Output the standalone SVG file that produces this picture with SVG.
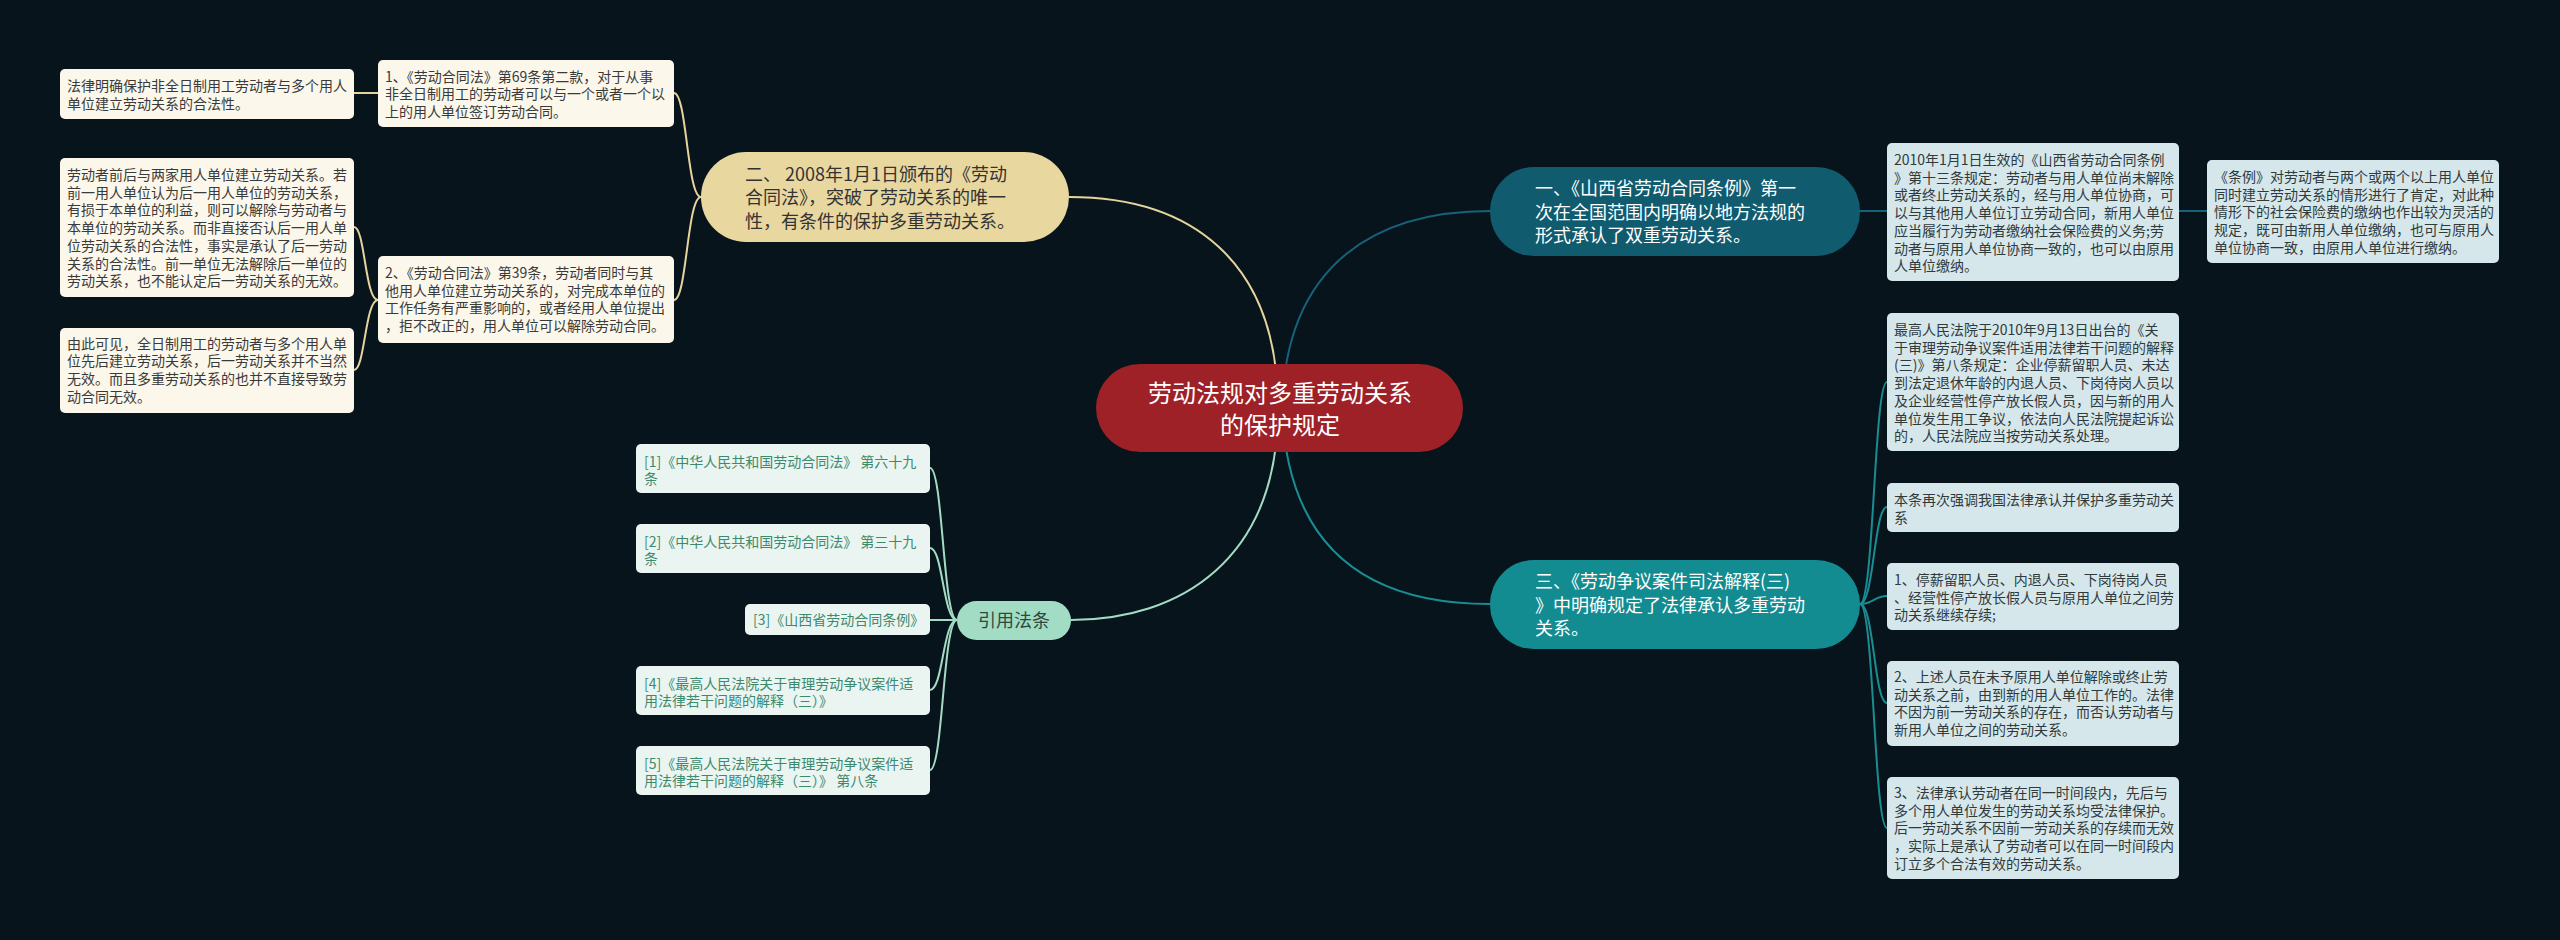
<svg xmlns="http://www.w3.org/2000/svg" width="2560" height="940" viewBox="0 0 2560 940">
<style>
text{font-family:"Noto Sans CJK SC","Noto Sans",sans-serif;}
.sm{font-size:14px;}
.md{font-size:18px;}
.lg{font-size:24px;}
.leafL{fill:#fbf7ea;}
.leafR{fill:#d6e7eb;}
.leafC{fill:#eaf4f0;}
.tL{fill:#3a3a3a;}
.tR{fill:#2f3a3d;}
.tC{fill:#3d8a6e;}
.w{fill:#ffffff;}
.cb{fill:none;stroke:#e5d49c;stroke-width:2;}
.c1{fill:none;stroke:#17617a;stroke-width:2;}
.c3{fill:none;stroke:#1a8d92;stroke-width:2;}
.cc{fill:none;stroke:#a3dcc4;stroke-width:2;}
</style>
<rect x="0" y="0" width="2560" height="940" fill="#08141c"/>

<g id="connectors">
  <path class="cb" d="M1278,408 C1278,260 1190,197 1069,197"/>
  <path class="c1" d="M1282,408 C1286,260 1380,211 1490,211"/>
  <path class="cc" d="M1278,408 C1278,560 1180,620 1071,620"/>
  <path class="c3" d="M1282,408 C1288,560 1380,604 1490,604"/>
  <path class="cb" d="M701,197 C687,197 687,93 674,93"/>
  <path class="cb" d="M701,197 C687,197 687,300 674,300"/>
  <path class="cb" d="M378,93 L354,93"/>
  <path class="cb" d="M378,300 C365,300 365,227 354,227"/>
  <path class="cb" d="M378,300 C365,300 365,370 354,370"/>
  <path class="c1" d="M1860,211 L1887,211"/>
  <path class="c1" d="M2179,211 L2207,211"/>
  <path class="c3" d="M1860,604 C1874,604 1874,382 1887,382"/>
  <path class="c3" d="M1860,604 C1874,604 1874,507 1887,507"/>
  <path class="c3" d="M1860,604 C1874,604 1874,596 1887,596"/>
  <path class="c3" d="M1860,604 C1874,604 1874,703 1887,703"/>
  <path class="c3" d="M1860,604 C1874,604 1874,828 1887,828"/>
  <path class="cc" d="M957,620 C943,620 943,468 930,468"/>
  <path class="cc" d="M957,620 C943,620 943,548 930,548"/>
  <path class="cc" d="M957,620 L930,620"/>
  <path class="cc" d="M957,620 C943,620 943,690 930,690"/>
  <path class="cc" d="M957,620 C943,620 943,770 930,770"/>
</g>

<g id="center">
  <rect x="1096" y="364" width="367" height="88" rx="44" fill="#9e2128"/>
  <text class="lg w" x="1280" y="402" text-anchor="middle">劳动法规对多重劳动关系</text>
  <text class="lg w" x="1280" y="434" text-anchor="middle">的保护规定</text>
</g>

<g id="branch2">
  <rect x="701" y="152" width="368" height="90" rx="45" fill="#e9d7a0"/>
  <text class="md" fill="#333" x="745" y="180.5">二、 2008年1月1日颁布的《劳动</text>
  <text class="md" fill="#333" x="745" y="204">合同法》，突破了劳动关系的唯一</text>
  <text class="md" fill="#333" x="745" y="227.5">性，有条件的保护多重劳动关系。</text>
</g>

<g id="b2c1">
  <rect class="leafL" x="378" y="60" width="296" height="67" rx="5"/>
  <text class="sm tL" x="385" y="81.5">1、《劳动合同法》第69条第二款，对于从事</text>
  <text class="sm tL" x="385" y="99.2">非全日制用工的劳动者可以与一个或者一个以</text>
  <text class="sm tL" x="385" y="116.9">上的用人单位签订劳动合同。</text>
</g>
<g id="b2c1a">
  <rect class="leafL" x="60" y="69" width="294" height="50" rx="5"/>
  <text class="sm tL" x="67" y="91">法律明确保护非全日制用工劳动者与多个用人</text>
  <text class="sm tL" x="67" y="108.7">单位建立劳动关系的合法性。</text>
</g>
<g id="b2c2">
  <rect class="leafL" x="378" y="256" width="296" height="87" rx="5"/>
  <text class="sm tL" x="385" y="278">2、《劳动合同法》第39条，劳动者同时与其</text>
  <text class="sm tL" x="385" y="295.7">他用人单位建立劳动关系的，对完成本单位的</text>
  <text class="sm tL" x="385" y="313.4">工作任务有严重影响的，或者经用人单位提出</text>
  <text class="sm tL" x="385" y="331.1">，拒不改正的，用人单位可以解除劳动合同。</text>
</g>
<g id="b2c2a">
  <rect class="leafL" x="60" y="158" width="294" height="139" rx="5"/>
  <text class="sm tL" x="67" y="180">劳动者前后与两家用人单位建立劳动关系。若</text>
  <text class="sm tL" x="67" y="197.7">前一用人单位认为后一用人单位的劳动关系，</text>
  <text class="sm tL" x="67" y="215.4">有损于本单位的利益，则可以解除与劳动者与</text>
  <text class="sm tL" x="67" y="233.1">本单位的劳动关系。而非直接否认后一用人单</text>
  <text class="sm tL" x="67" y="250.8">位劳动关系的合法性，事实是承认了后一劳动</text>
  <text class="sm tL" x="67" y="268.5">关系的合法性。前一单位无法解除后一单位的</text>
  <text class="sm tL" x="67" y="286.2">劳动关系，也不能认定后一劳动关系的无效。</text>
</g>
<g id="b2c2b">
  <rect class="leafL" x="60" y="328" width="294" height="85" rx="5"/>
  <text class="sm tL" x="67" y="348.5">由此可见，全日制用工的劳动者与多个用人单</text>
  <text class="sm tL" x="67" y="366.2">位先后建立劳动关系，后一劳动关系并不当然</text>
  <text class="sm tL" x="67" y="383.9">无效。而且多重劳动关系的也并不直接导致劳</text>
  <text class="sm tL" x="67" y="401.6">动合同无效。</text>
</g>

<g id="branch1">
  <rect x="1490" y="167" width="370" height="89" rx="44" fill="#115b6f"/>
  <text class="md w" x="1535" y="195">一、《山西省劳动合同条例》第一</text>
  <text class="md w" x="1535" y="218.5">次在全国范围内明确以地方法规的</text>
  <text class="md w" x="1535" y="242">形式承认了双重劳动关系。</text>
</g>
<g id="b1c1">
  <rect class="leafR" x="1887" y="143" width="292" height="138" rx="5"/>
  <text class="sm tR" x="1894" y="165">2010年1月1日生效的《山西省劳动合同条例</text>
  <text class="sm tR" x="1894" y="182.7">》第十三条规定：劳动者与用人单位尚未解除</text>
  <text class="sm tR" x="1894" y="200.4">或者终止劳动关系的，经与用人单位协商，可</text>
  <text class="sm tR" x="1894" y="218.1">以与其他用人单位订立劳动合同，新用人单位</text>
  <text class="sm tR" x="1894" y="235.8">应当履行为劳动者缴纳社会保险费的义务;劳</text>
  <text class="sm tR" x="1894" y="253.5">动者与原用人单位协商一致的，也可以由原用</text>
  <text class="sm tR" x="1894" y="271.2">人单位缴纳。</text>
</g>
<g id="b1c1a">
  <rect class="leafR" x="2207" y="160" width="292" height="103" rx="5"/>
  <text class="sm tR" x="2214" y="182">《条例》对劳动者与两个或两个以上用人单位</text>
  <text class="sm tR" x="2214" y="199.7">同时建立劳动关系的情形进行了肯定，对此种</text>
  <text class="sm tR" x="2214" y="217.4">情形下的社会保险费的缴纳也作出较为灵活的</text>
  <text class="sm tR" x="2214" y="235.1">规定，既可由新用人单位缴纳，也可与原用人</text>
  <text class="sm tR" x="2214" y="252.8">单位协商一致，由原用人单位进行缴纳。</text>
</g>

<g id="branch3">
  <rect x="1490" y="560" width="370" height="89" rx="44" fill="#138c91"/>
  <text class="md w" x="1535" y="588">三、《劳动争议案件司法解释(三)</text>
  <text class="md w" x="1535" y="611.5">》中明确规定了法律承认多重劳动</text>
  <text class="md w" x="1535" y="635">关系。</text>
</g>
<g id="b3c1">
  <rect class="leafR" x="1887" y="313" width="292" height="138" rx="5"/>
  <text class="sm tR" x="1894" y="335">最高人民法院于2010年9月13日出台的《关</text>
  <text class="sm tR" x="1894" y="352.7">于审理劳动争议案件适用法律若干问题的解释</text>
  <text class="sm tR" x="1894" y="370.4">(三)》第八条规定：企业停薪留职人员、未达</text>
  <text class="sm tR" x="1894" y="388.1">到法定退休年龄的内退人员、下岗待岗人员以</text>
  <text class="sm tR" x="1894" y="405.8">及企业经营性停产放长假人员，因与新的用人</text>
  <text class="sm tR" x="1894" y="423.5">单位发生用工争议，依法向人民法院提起诉讼</text>
  <text class="sm tR" x="1894" y="441.2">的，人民法院应当按劳动关系处理。</text>
</g>
<g id="b3c2">
  <rect class="leafR" x="1887" y="483" width="292" height="49" rx="5"/>
  <text class="sm tR" x="1894" y="505">本条再次强调我国法律承认并保护多重劳动关</text>
  <text class="sm tR" x="1894" y="522.7">系</text>
</g>
<g id="b3c3">
  <rect class="leafR" x="1887" y="563" width="292" height="67" rx="5"/>
  <text class="sm tR" x="1894" y="585">1、停薪留职人员、内退人员、下岗待岗人员</text>
  <text class="sm tR" x="1894" y="602.7">、经营性停产放长假人员与原用人单位之间劳</text>
  <text class="sm tR" x="1894" y="620.4">动关系继续存续;</text>
</g>
<g id="b3c4">
  <rect class="leafR" x="1887" y="661" width="292" height="85" rx="5"/>
  <text class="sm tR" x="1894" y="682">2、上述人员在未予原用人单位解除或终止劳</text>
  <text class="sm tR" x="1894" y="699.7">动关系之前，由到新的用人单位工作的。法律</text>
  <text class="sm tR" x="1894" y="717.4">不因为前一劳动关系的存在，而否认劳动者与</text>
  <text class="sm tR" x="1894" y="735.1">新用人单位之间的劳动关系。</text>
</g>
<g id="b3c5">
  <rect class="leafR" x="1887" y="777" width="292" height="102" rx="5"/>
  <text class="sm tR" x="1894" y="798">3、法律承认劳动者在同一时间段内，先后与</text>
  <text class="sm tR" x="1894" y="815.7">多个用人单位发生的劳动关系均受法律保护。</text>
  <text class="sm tR" x="1894" y="833.4">后一劳动关系不因前一劳动关系的存续而无效</text>
  <text class="sm tR" x="1894" y="851.1">，实际上是承认了劳动者可以在同一时间段内</text>
  <text class="sm tR" x="1894" y="868.8">订立多个合法有效的劳动关系。</text>
</g>

<g id="cite">
  <rect x="957" y="601" width="114" height="39" rx="19.5" fill="#a3dcc4"/>
  <text class="md" fill="#2d4a40" x="1014" y="627" text-anchor="middle">引用法条</text>
</g>
<g id="cite1">
  <rect class="leafC" x="636" y="444" width="294" height="49" rx="5"/>
  <text class="sm tC" x="644" y="467">[1]《中华人民共和国劳动合同法》 第六十九</text>
  <text class="sm tC" x="644" y="484">条</text>
</g>
<g id="cite2">
  <rect class="leafC" x="636" y="524" width="294" height="49" rx="5"/>
  <text class="sm tC" x="644" y="547">[2]《中华人民共和国劳动合同法》 第三十九</text>
  <text class="sm tC" x="644" y="564">条</text>
</g>
<g id="cite3">
  <rect class="leafC" x="745" y="604" width="185" height="31" rx="5"/>
  <text class="sm tC" x="753" y="625">[3]《山西省劳动合同条例》</text>
</g>
<g id="cite4">
  <rect class="leafC" x="636" y="666" width="294" height="49" rx="5"/>
  <text class="sm tC" x="644" y="689">[4]《最高人民法院关于审理劳动争议案件适</text>
  <text class="sm tC" x="644" y="706">用法律若干问题的解释（三）》</text>
</g>
<g id="cite5">
  <rect class="leafC" x="636" y="746" width="294" height="49" rx="5"/>
  <text class="sm tC" x="644" y="769">[5]《最高人民法院关于审理劳动争议案件适</text>
  <text class="sm tC" x="644" y="786">用法律若干问题的解释（三）》 第八条</text>
</g>
</svg>
